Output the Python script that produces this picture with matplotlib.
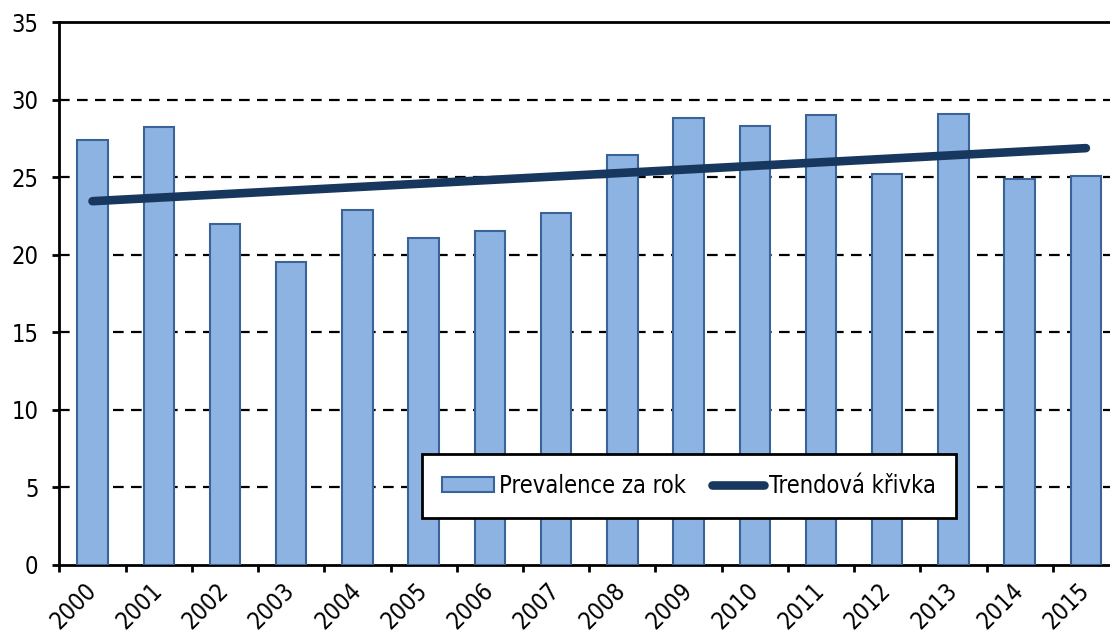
import matplotlib
matplotlib.use("Agg")
import matplotlib.pyplot as plt
from matplotlib.patches import Patch
from matplotlib.lines import Line2D
import numpy as np

plt.rcParams['font.family'] = ['DejaVu Sans']
plt.rcParams['font.stretch'] = 'condensed'

years = ['2000', '2001', '2002', '2003', '2004', '2005', '2006', '2007',
         '2008', '2009', '2010', '2011', '2012', '2013', '2014', '2015']
prevalence = [27.4, 28.2, 22.0, 19.5, 22.9, 21.1, 21.5, 22.7,
              26.4, 28.8, 28.3, 29.0, 25.2, 29.1, 24.9, 25.1]
trend_years = ['2000', '2015']
trend_values = [23.45, 26.87]
y_ticks = [0, 5, 10, 15, 20, 25, 30, 35]

bar_label = 'Prevalence za rok'
trend_label = 'Trendová křivka'

bar_face = '#8DB3E2'
bar_edge = '#3A6497'
trend_color = '#17375E'

W, H = 1110, 633
fig = plt.figure(figsize=(W / 100, H / 100), dpi=100)
left_px, right_px, top_px, bottom_px = 59.4, 1119.0, 22.0, 565.0
ax = fig.add_axes([left_px / W, 1 - bottom_px / H,
                   (right_px - left_px) / W, (bottom_px - top_px) / H])

x = np.arange(len(years))
ax.bar(x, prevalence, width=0.46, color=bar_face, edgecolor=bar_edge,
       linewidth=1.5, zorder=3)

tx = [years.index(t) for t in trend_years]
ax.plot(tx, trend_values, color=trend_color, linewidth=6.2,
        solid_capstyle='round', zorder=4)

ax.set_xlim(-0.5, len(years) - 0.5)
ax.set_ylim(0, 35)
ax.set_yticks(y_ticks)
ax.set_yticklabels([str(v) for v in y_ticks], fontsize=17)

for v in y_ticks[1:-1]:
    ax.axhline(v, color='black', linewidth=1.6, linestyle=(0, (4.8, 3.3)),
               zorder=1)

# category boundaries as ticks, labels at centers
ax.set_xticks(np.arange(len(years) + 1) - 0.5)
ax.set_xticklabels([])
ax.set_xticks(x, minor=True)
ax.set_xticklabels(years, minor=True, rotation=45, ha='right', va='center',
                   rotation_mode='anchor', fontsize=17)
ax.tick_params(axis='x', which='minor', length=0, pad=16)
ax.tick_params(axis='x', which='major', length=5, width=2, direction='out')
ax.tick_params(axis='y', length=5, width=2, direction='out', pad=10)

for s in ['left', 'bottom', 'top']:
    ax.spines[s].set_linewidth(2)
    ax.spines[s].set_color('black')
ax.spines['right'].set_visible(False)

handles = [Patch(facecolor=bar_face, edgecolor=bar_edge, linewidth=1.5),
           Line2D([0], [0], color=trend_color, linewidth=6.2,
                  solid_capstyle='round')]
leg = fig.legend(handles, [bar_label, trend_label], loc='center',
                 bbox_to_anchor=((423 + 955) / 2 / W, 1 - 486 / H),
                 ncol=2, fontsize=17, frameon=True, fancybox=False,
                 handlelength=2.2, handleheight=0.6, handletextpad=0.2,
                 columnspacing=1.1, borderpad=0.85)
leg.get_frame().set_edgecolor('black')
leg.get_frame().set_linewidth(2)
leg.get_frame().set_alpha(1)

fig.savefig('out.png', dpi=100)
